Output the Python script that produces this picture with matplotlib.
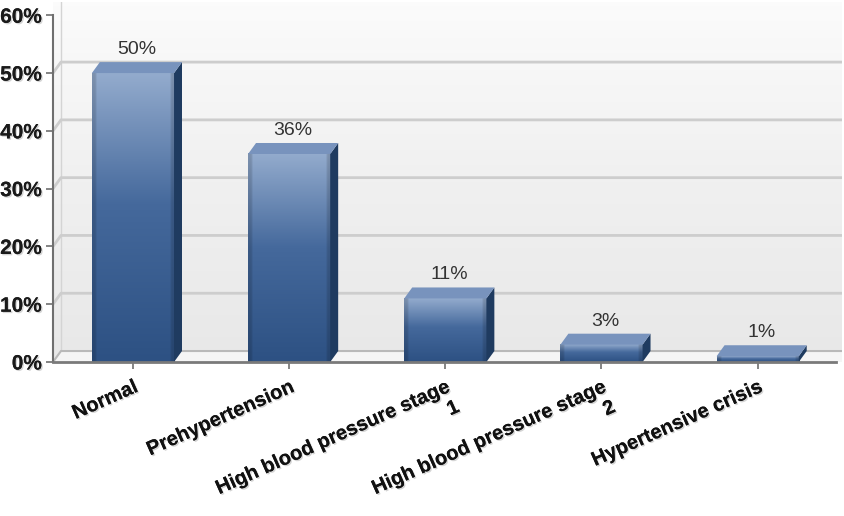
import numpy as np
import matplotlib.pyplot as plt
from matplotlib.patches import Polygon
from matplotlib.colors import LinearSegmentedColormap
import matplotlib.patheffects as pe

categories = ["Normal", "Prehypertension", "High blood pressure stage\n1",
              "High blood pressure stage\n2", "Hypertensive crisis"]
values = [50, 36, 11, 3, 1]
yticks = [0, 10, 20, 30, 40, 50, 60]
ytick_labels = ["0%", "10%", "20%", "30%", "40%", "50%", "60%"]

plt.rcParams['font.family'] = ['Liberation Sans', 'DejaVu Sans']

fig = plt.figure(figsize=(8.44, 5.16), dpi=100)
W, H = 844, 516
ax = fig.add_axes([53 / W, (H - 362) / H, 789 / W, 360 / H])

x0, x1 = -0.512, 4.54
ytop = 62.3
dx, dy = 0.051, 1.9   # depth offset of the fake 3D
bw = 0.526

# back wall
wall = np.linspace(0, 1, 64)[:, None] * np.ones((1, 4))
wall_cmap = LinearSegmentedColormap.from_list("wall", ["#e8e8e8", "#f0f0f0", "#fbfbfb"])
ax.imshow(wall, cmap=wall_cmap, origin='lower', extent=[x0, x1, 0, ytop],
          aspect='auto', interpolation='bilinear', zorder=0)
ax.plot([x0 + dx, x0 + dx], [dy, ytop], color="#d4d4d4", lw=1, zorder=1)

# floor
ax.add_patch(Polygon([(x0, 0), (x1, 0), (x1 + dx, dy), (x0 + dx, dy)],
                     closed=True, facecolor="#f5f5f5", edgecolor="none", zorder=1))
ax.plot([x0, x0 + dx, x1], [0, dy, dy], color="#b9b9b9", lw=1.5, zorder=1.2)

# gridlines on the wall
for v in yticks[1:-1]:
    ax.plot([x0, x0 + dx, x1], [v, v + dy, v + dy], color="#cdcdcd", lw=2,
            zorder=1.2, solid_capstyle='butt')

# bars
front_cmap = LinearSegmentedColormap.from_list(
    "front", [(0, "#2d5183"), (0.55, "#45699c"), (1, "#93abcd")])
grad = np.linspace(0, 1, 128)[:, None]
edge = np.ones((1, 40))
edge[0, :2] = 0.85
edge[0, -2:] = 0.85
for i, v in enumerate(values):
    xl, xr = i - bw / 2, i + bw / 2
    img = front_cmap(grad * np.ones((1, 40)))[:, :, :3] * edge[:, :, None]
    ax.imshow(img, origin='lower', extent=[xl, xr, 0, v], aspect='auto',
              interpolation='bilinear', zorder=3)
    ax.add_patch(Polygon([(xr, 0), (xr + dx, dy), (xr + dx, v + dy), (xr, v)],
                         closed=True, facecolor="#1f3b60", edgecolor="none", zorder=3))
    ax.add_patch(Polygon([(xl, v), (xr, v), (xr + dx, v + dy), (xl + dx, v + dy)],
                         closed=True, facecolor="#7893bd", edgecolor="none", zorder=3))
    ax.text(i + dx / 2, v + dy + 0.7, f"{v}%", ha='center', va='bottom',
            fontsize=14, color="#333333", zorder=5)

ax.set_xlim(x0, x1)
ax.set_ylim(0, ytop)

for s in ['top', 'right']:
    ax.spines[s].set_visible(False)
ax.spines['left'].set_bounds(0, 60)
ax.spines['left'].set_color("#6f6f6f")
ax.spines['left'].set_linewidth(1.5)
ax.spines['bottom'].set_bounds(x0, 4.5)
ax.spines['bottom'].set_color("#7a7a7a")
ax.spines['bottom'].set_linewidth(2)
ax.spines['bottom'].set_zorder(6)

shadow = [pe.withSimplePatchShadow(offset=(1, -1), alpha=0.25, shadow_rgbFace="#555555")]

ax.set_yticks(yticks)
ax.set_yticklabels(ytick_labels, fontsize=15, fontweight='bold', color="#1a1a1a")
ax.tick_params(axis='y', direction='out', length=5, width=1.2, color="#6f6f6f", pad=3)

ax.set_xticks(range(len(categories)))
ax.set_xticklabels(categories, fontsize=14.5, fontweight='bold', color="#111111",
                   rotation=24, ha='right', va='top', rotation_mode='anchor',
                   multialignment='right')
ax.tick_params(axis='x', direction='out', length=5, width=1.2, color="#6f6f6f", pad=6)
for t in ax.get_xticklabels() + ax.get_yticklabels():
    t.set_path_effects(shadow + [pe.Normal()])

fig.savefig("out.png", dpi=100)
